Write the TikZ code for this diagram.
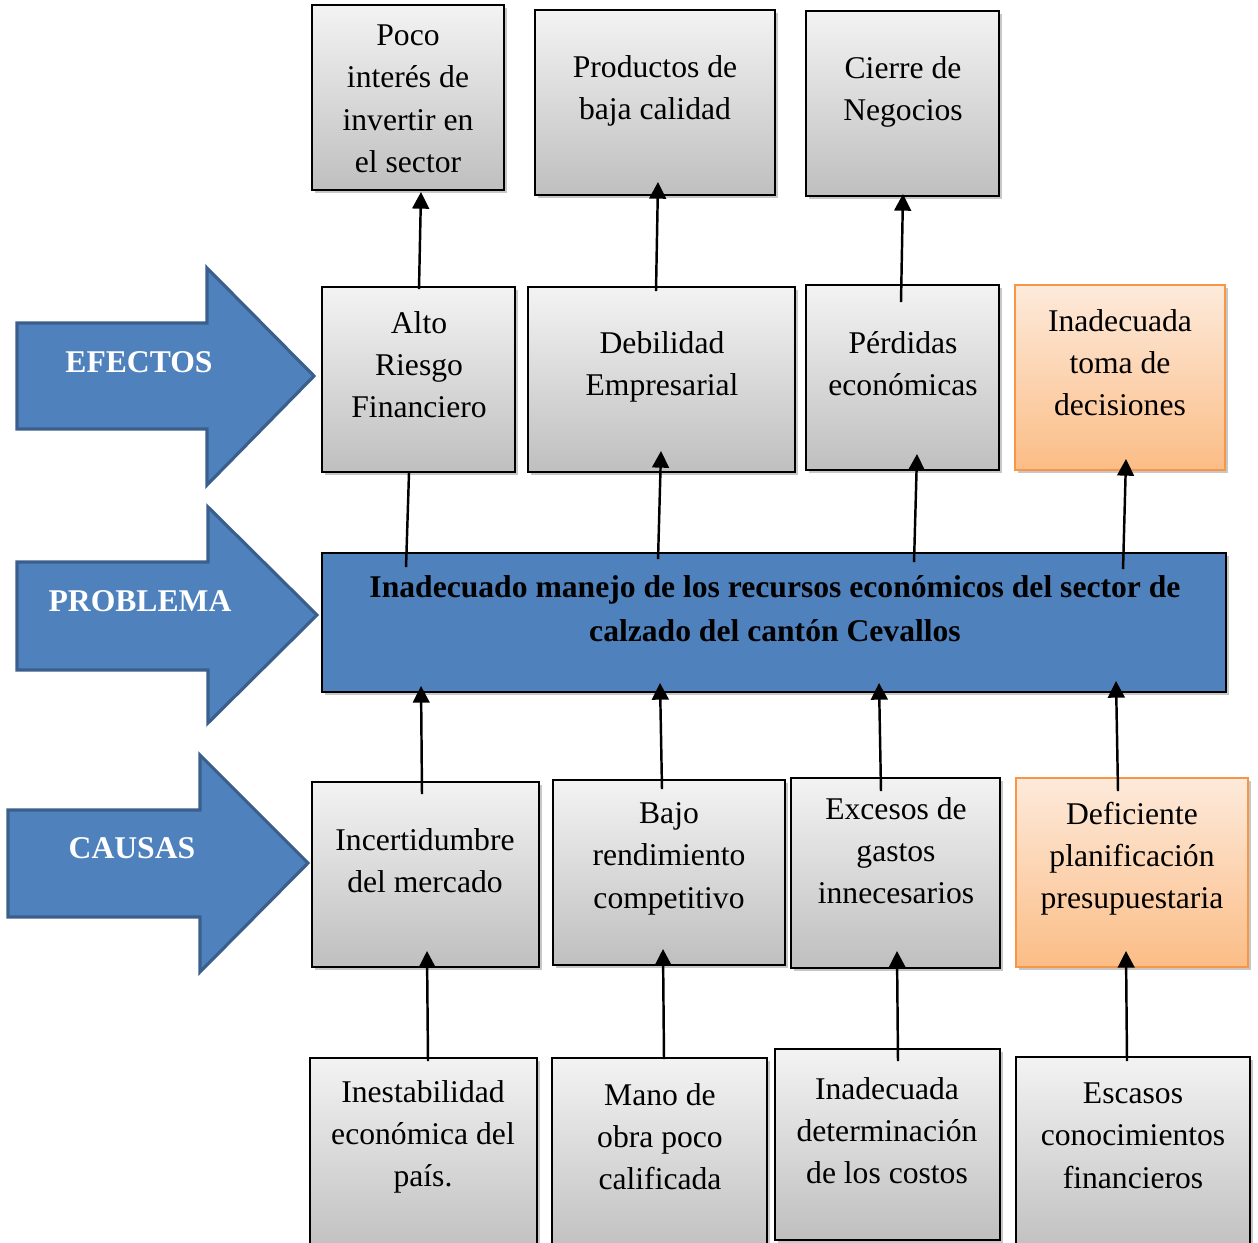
\documentclass[tikz,border=0pt]{standalone}
\usepackage{fontspec}
\setmainfont{Liberation Serif}
\usetikzlibrary{arrows.meta,shadows,calc,fit}

\definecolor{boxtop}{HTML}{F3F3F3}
\definecolor{boxbot}{HTML}{BFBFBF}
\definecolor{ortop}{HTML}{FDEADB}
\definecolor{orbot}{HTML}{FBBD86}
\definecolor{orline}{HTML}{F79646}
\definecolor{blfill}{HTML}{4F81BD}
\definecolor{blline}{HTML}{3A5F8C}

\tikzset{
  boxshadow/.style={drop shadow={shadow xshift=1.6pt,shadow yshift=-1.6pt,opacity=0.22,fill=black}},
  graybox/.style={draw=black,line width=1.1pt,top color=boxtop,bottom color=boxbot,
    inner sep=0pt,boxshadow},
  orangebox/.style={draw=orline,line width=1.1pt,top color=ortop,bottom color=orbot,
    inner sep=0pt,boxshadow},
  probbox/.style={draw=black,line width=1.1pt,fill=blfill,inner sep=0pt,boxshadow},
  txt/.style={align=center,font=\fontsize{18}{24}\selectfont,inner sep=0pt,yshift=-1pt},
  probtxt/.style={align=center,font=\fontsize{18}{25}\selectfont\bfseries,inner sep=0pt},
  bigarrow/.style={fill=blfill,draw=blline,line width=1.8pt,line join=miter},
  arrowlabel/.style={text=white,font=\fontsize{18}{22}\selectfont\bfseries,inner sep=0pt},
  conn/.style={line width=1.4pt,-{Triangle[length=9.5pt,width=9.5pt]}},
  plainconn/.style={line width=1.4pt}
}

\begin{document}
\begin{tikzpicture}[x=0.02cm,y=-0.02cm]
\useasboundingbox (0,0) rectangle (1258,1243);

% side arrows
\draw[bigarrow] (17,323) -- (207,323) -- (207,268) -- (314,376) -- (207,485) -- (207,429) -- (17,429) -- cycle;
\draw[bigarrow] (17,562) -- (208,562) -- (208,507) -- (317,615) -- (208,723) -- (208,670) -- (17,670) -- cycle;
\draw[bigarrow] (8,810) -- (200,810) -- (200,755) -- (308,863) -- (200,972) -- (200,917) -- (8,917) -- cycle;
\node[arrowlabel] (lef) at (139,362) {EFECTOS};
\node[arrowlabel] (lpr) at (140,601) {PROBLEMA};
\node[arrowlabel] (lca) at (132,848) {CAUSAS};

% effects, upper row
\node[graybox,fit={(312,5) (504,190)}] (e1) {};
\node[graybox,fit={(535,10) (775,195)}] (e2) {};
\node[graybox,fit={(806,11) (999,196)}] (e3) {};
\node[txt] at (408,97) {Poco\\interés de\\invertir en\\el sector};
\node[txt] at (655,89) {Productos de\\baja calidad};
\node[txt] at (903,90) {Cierre de\\Negocios};

% effects, lower row
\node[graybox,fit={(322,287) (515,472)}] (a1) {};
\node[graybox,fit={(528,287) (795,472)}] (a2) {};
\node[graybox,fit={(806,285) (999,470)}] (a3) {};
\node[orangebox,fit={(1015,285) (1225,470)}] (a4) {};
\node[txt] at (419,363) {Alto\\Riesgo\\Financiero};
\node[txt] at (662,365) {Debilidad\\Empresarial};
\node[txt] at (903,362) {Pérdidas\\económicas};
\node[txt] at (1120,361) {Inadecuada\\toma de\\decisiones};

% central problem
\node[probbox,fit={(322,553) (1226,692)}] (p) {};
\node[probtxt] at (775,609) {Inadecuado manejo de los recursos económicos del sector de\\calzado del cantón Cevallos};

% causes, upper row
\node[graybox,fit={(312,782) (539,967)}] (c1) {};
\node[graybox,fit={(553,780) (785,965)}] (c2) {};
\node[graybox,fit={(791,778) (1000,968)}] (c3) {};
\node[orangebox,fit={(1016,778) (1248,967)}] (c4) {};
\node[txt] at (425,859) {Incertidumbre\\del mercado};
\node[txt] at (669,857) {Bajo\\rendimiento\\competitivo};
\node[txt] at (896,849) {Excesos de\\gastos\\innecesarios};
\node[txt] at (1132,857) {Deficiente\\planificación\\presupuestaria};

% causes, lower row
\node[graybox,fit={(310,1058) (537,1255)}] (r1) {};
\node[graybox,fit={(552,1058) (767,1255)}] (r2) {};
\node[graybox,fit={(775,1049) (1000,1240)}] (r3) {};
\node[graybox,fit={(1016,1057) (1250,1255)}] (r4) {};
\node[txt] at (423,1135) {Inestabilidad\\económica del\\país.};
\node[txt] at (660,1135) {Mano de\\obra poco\\calificada};
\node[txt] at (887,1129) {Inadecuada\\determinación\\de los costos};
\node[txt] at (1133,1134) {Escasos\\conocimientos\\financieros};

% connectors: effects
\draw[conn] ($(a1.north)+(0.5,3)$) -- ($(e1.south)+(13,1)$);
\draw[conn] ($(a2.north)+(-5.5,5)$) -- ($(e2.south)+(3,-14)$);
\draw[conn] ($(a3.north)+(-1.5,18)$) -- ($(e3.south)+(0.5,-3)$);
\draw[plainconn] ($(p.north west)+(85,15)$) -- ($(a1.south)+(-9.5,0)$);
\draw[conn] ($(p.north west)+(337,7)$) -- ($(a2.south)+(-0.5,-22)$);
\draw[conn] ($(p.north west)+(593,10)$) -- ($(a3.south)+(14.5,-17)$);
\draw[conn] ($(p.north west)+(802,17)$) -- ($(a4.south)+(6,-12)$);

% connectors: causes
\draw[conn] ($(c1.north)+(-3.5,13)$) -- ($(p.south west)+(100,-7)$);
\draw[conn] ($(c2.north)+(-7,10)$) -- ($(p.south west)+(339,-10)$);
\draw[conn] ($(c3.north)+(-14.5,14)$) -- ($(p.south west)+(558,-10)$);
\draw[conn] ($(c4.north)+(-14,14)$) -- ($(p.south west)+(795,-12)$);
\draw[conn] ($(r1.north)+(4.5,4)$) -- ($(c1.south)+(1.5,-17)$);
\draw[conn] ($(r2.north)+(4.5,2)$) -- ($(c2.south)+(-6,-17)$);
\draw[conn] ($(r3.north)+(10.5,13)$) -- ($(c3.south)+(1.5,-18)$);
\draw[conn] ($(r4.north)+(-6,5)$) -- ($(c4.south)+(-6,-17)$);
\end{tikzpicture}
\end{document}
